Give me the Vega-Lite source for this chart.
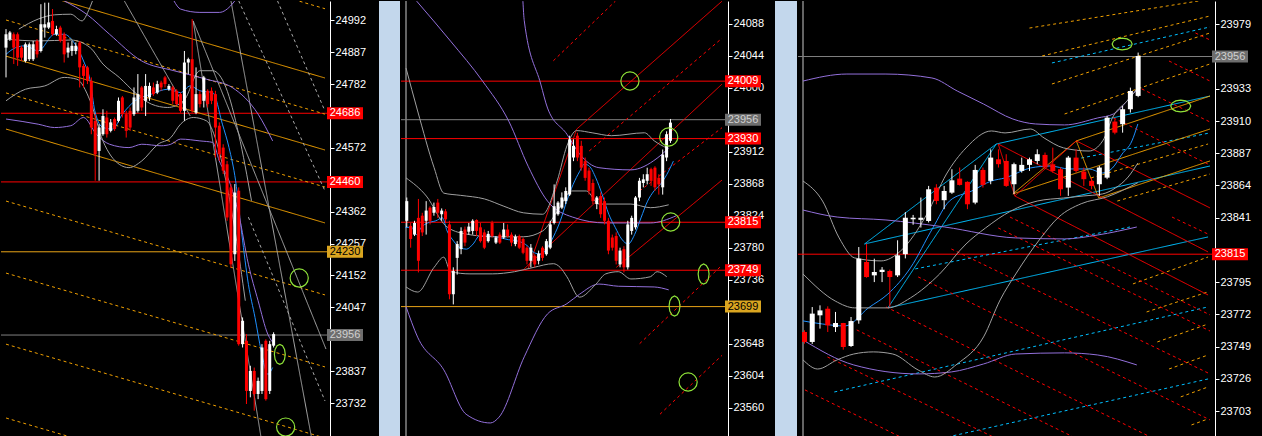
{
  "$schema": "https://vega.github.io/schema/vega-lite/v6.json",
  "background": "#000000",
  "padding": 0,
  "config": {"view": {"stroke": null}, "concat": {"spacing": 0}},
  "datasets": {
    "c1": [
      {"i":0,"o":24902,"h":24963,"l":24804,"c":24946},{"i":1,"o":24930,"h":24957,"l":24924,"c":24952},
      {"i":2,"o":24946,"h":24952,"l":24848,"c":24902},{"i":3,"o":24946,"h":24952,"l":24842,"c":24869},
      {"i":4,"o":24902,"h":24908,"l":24858,"c":24869},{"i":5,"o":24858,"h":24919,"l":24853,"c":24913},
      {"i":6,"o":24864,"h":24919,"l":24858,"c":24913},{"i":7,"o":24864,"h":24924,"l":24858,"c":24913},
      {"i":8,"o":24924,"h":24930,"l":24869,"c":24880},{"i":9,"o":24891,"h":25045,"l":24886,"c":24979},
      {"i":10,"o":24968,"h":25050,"l":24935,"c":24979},{"i":11,"o":24968,"h":25050,"l":24963,"c":24985},
      {"i":12,"o":24990,"h":25029,"l":24941,"c":24946},{"i":13,"o":24946,"h":24974,"l":24941,"c":24963},
      {"i":14,"o":24968,"h":24974,"l":24919,"c":24924},{"i":15,"o":24946,"h":24952,"l":24853,"c":24880},
      {"i":16,"o":24886,"h":24919,"l":24869,"c":24902},{"i":17,"o":24891,"h":24924,"l":24875,"c":24908},
      {"i":18,"o":24891,"h":24919,"l":24880,"c":24908},{"i":19,"o":24919,"h":24924,"l":24771,"c":24837},
      {"i":20,"o":24842,"h":24848,"l":24771,"c":24809},{"i":21,"o":24837,"h":24842,"l":24782,"c":24793},
      {"i":22,"o":24793,"h":24804,"l":24617,"c":24639},{"i":23,"o":24661,"h":24683,"l":24464,"c":24551},
      {"i":24,"o":24562,"h":24650,"l":24464,"c":24639},{"i":25,"o":24617,"h":24699,"l":24612,"c":24677},
      {"i":26,"o":24672,"h":24694,"l":24606,"c":24617},{"i":27,"o":24628,"h":24667,"l":24623,"c":24656},
      {"i":28,"o":24667,"h":24672,"l":24628,"c":24634},{"i":29,"o":24661,"h":24738,"l":24656,"c":24727},
      {"i":30,"o":24738,"h":24743,"l":24672,"c":24683},{"i":31,"o":24683,"h":24694,"l":24606,"c":24628},
      {"i":32,"o":24694,"h":24705,"l":24628,"c":24639},{"i":33,"o":24683,"h":24771,"l":24677,"c":24738},
      {"i":34,"o":24694,"h":24815,"l":24688,"c":24749},{"i":35,"o":24771,"h":24776,"l":24694,"c":24705},
      {"i":36,"o":24727,"h":24815,"l":24677,"c":24776},{"i":37,"o":24738,"h":24787,"l":24727,"c":24776},
      {"i":38,"o":24771,"h":24787,"l":24743,"c":24749},{"i":39,"o":24754,"h":24793,"l":24749,"c":24782},
      {"i":40,"o":24787,"h":24793,"l":24760,"c":24771},{"i":41,"o":24804,"h":24809,"l":24771,"c":24782},
      {"i":42,"o":24765,"h":24782,"l":24760,"c":24776},{"i":43,"o":24771,"h":24776,"l":24716,"c":24727},
      {"i":44,"o":24760,"h":24765,"l":24711,"c":24716},{"i":45,"o":24749,"h":24754,"l":24688,"c":24694},
      {"i":46,"o":24694,"h":24891,"l":24661,"c":24853},{"i":47,"o":24853,"h":24869,"l":24815,"c":24864},
      {"i":48,"o":24864,"h":24996,"l":24688,"c":24694},{"i":49,"o":24688,"h":24837,"l":24683,"c":24749},
      {"i":50,"o":24749,"h":24760,"l":24705,"c":24716},{"i":51,"o":24727,"h":24809,"l":24705,"c":24804},
      {"i":52,"o":24760,"h":24765,"l":24705,"c":24716},{"i":53,"o":24760,"h":24771,"l":24716,"c":24727},
      {"i":54,"o":24749,"h":24760,"l":24540,"c":24639},{"i":55,"o":24645,"h":24656,"l":24529,"c":24551},
      {"i":56,"o":24573,"h":24584,"l":24486,"c":24497},{"i":57,"o":24518,"h":24529,"l":24332,"c":24343},
      {"i":58,"o":24442,"h":24453,"l":24178,"c":24189},{"i":59,"o":24222,"h":24453,"l":24200,"c":24425},
      {"i":60,"o":24431,"h":24442,"l":23921,"c":23926},{"i":61,"o":23926,"h":24014,"l":23915,"c":24003},
      {"i":62,"o":23937,"h":23959,"l":23729,"c":23772},{"i":63,"o":23772,"h":23855,"l":23751,"c":23838},
      {"i":64,"o":23838,"h":23849,"l":23707,"c":23762},{"i":65,"o":23762,"h":23816,"l":23745,"c":23805},
      {"i":66,"o":23772,"h":23926,"l":23762,"c":23915},{"i":67,"o":23937,"h":23942,"l":23740,"c":23745},
      {"i":68,"o":23772,"h":23937,"l":23762,"c":23926},{"i":69,"o":23921,"h":23965,"l":23915,"c":23959}
    ],
    "c2": [
      {"i":0,"o":23817,"h":23849,"l":23808,"c":23844},{"i":1,"o":23810,"h":23814,"l":23780,"c":23792},
      {"i":2,"o":23798,"h":23817,"l":23796,"c":23814},{"i":3,"o":23821,"h":23847,"l":23746,"c":23762},
      {"i":4,"o":23824,"h":23828,"l":23796,"c":23801},{"i":5,"o":23817,"h":23844,"l":23798,"c":23831},
      {"i":6,"o":23835,"h":23837,"l":23812,"c":23817},{"i":7,"o":23828,"h":23842,"l":23824,"c":23836},
      {"i":8,"o":23842,"h":23847,"l":23821,"c":23828},{"i":9,"o":23826,"h":23834,"l":23817,"c":23831},
      {"i":10,"o":23830,"h":23833,"l":23814,"c":23819},{"i":11,"o":23812,"h":23817,"l":23709,"c":23716},
      {"i":12,"o":23716,"h":23753,"l":23702,"c":23748},{"i":13,"o":23766,"h":23789,"l":23743,"c":23785},
      {"i":14,"o":23778,"h":23808,"l":23771,"c":23803},{"i":15,"o":23805,"h":23809,"l":23782,"c":23787},
      {"i":16,"o":23802,"h":23814,"l":23798,"c":23809},{"i":17,"o":23803,"h":23819,"l":23798,"c":23817},
      {"i":18,"o":23818,"h":23819,"l":23796,"c":23803},{"i":19,"o":23808,"h":23814,"l":23787,"c":23789},
      {"i":20,"o":23801,"h":23805,"l":23778,"c":23780},{"i":21,"o":23789,"h":23803,"l":23787,"c":23799},
      {"i":22,"o":23814,"h":23817,"l":23794,"c":23796},{"i":23,"o":23787,"h":23796,"l":23785,"c":23794},
      {"i":24,"o":23798,"h":23801,"l":23785,"c":23787},{"i":25,"o":23794,"h":23814,"l":23792,"c":23805},
      {"i":26,"o":23805,"h":23812,"l":23794,"c":23796},{"i":27,"o":23798,"h":23801,"l":23782,"c":23787},
      {"i":28,"o":23785,"h":23798,"l":23782,"c":23795},{"i":29,"o":23796,"h":23798,"l":23778,"c":23780},
      {"i":30,"o":23792,"h":23794,"l":23771,"c":23773},{"i":31,"o":23780,"h":23782,"l":23757,"c":23762},
      {"i":32,"o":23762,"h":23785,"l":23753,"c":23780},{"i":33,"o":23769,"h":23771,"l":23753,"c":23757},
      {"i":34,"o":23762,"h":23776,"l":23757,"c":23772},{"i":35,"o":23780,"h":23782,"l":23762,"c":23766},
      {"i":36,"o":23771,"h":23792,"l":23769,"c":23789},{"i":37,"o":23780,"h":23817,"l":23778,"c":23812},
      {"i":38,"o":23814,"h":23867,"l":23812,"c":23837},{"i":39,"o":23826,"h":23844,"l":23824,"c":23842},
      {"i":40,"o":23835,"h":23856,"l":23833,"c":23849},{"i":41,"o":23844,"h":23863,"l":23840,"c":23858},
      {"i":42,"o":23853,"h":23934,"l":23851,"c":23929},{"i":43,"o":23904,"h":23929,"l":23899,"c":23920},
      {"i":44,"o":23934,"h":23938,"l":23899,"c":23904},{"i":45,"o":23920,"h":23927,"l":23886,"c":23890},
      {"i":46,"o":23899,"h":23904,"l":23872,"c":23876},{"i":47,"o":23886,"h":23890,"l":23853,"c":23858},
      {"i":48,"o":23869,"h":23874,"l":23840,"c":23844},{"i":49,"o":23840,"h":23851,"l":23833,"c":23849},
      {"i":50,"o":23851,"h":23856,"l":23821,"c":23826},{"i":51,"o":23844,"h":23849,"l":23812,"c":23817},
      {"i":52,"o":23817,"h":23821,"l":23771,"c":23776},{"i":53,"o":23794,"h":23798,"l":23776,"c":23780},
      {"i":54,"o":23796,"h":23801,"l":23757,"c":23762},{"i":55,"o":23757,"h":23780,"l":23753,"c":23776},
      {"i":56,"o":23778,"h":23782,"l":23746,"c":23753},{"i":57,"o":23753,"h":23817,"l":23750,"c":23812},
      {"i":58,"o":23803,"h":23824,"l":23798,"c":23821},{"i":59,"o":23808,"h":23851,"l":23805,"c":23849},
      {"i":60,"o":23849,"h":23876,"l":23844,"c":23872},{"i":61,"o":23869,"h":23881,"l":23863,"c":23874},
      {"i":62,"o":23872,"h":23890,"l":23867,"c":23881},{"i":63,"o":23888,"h":23890,"l":23865,"c":23872},
      {"i":64,"o":23890,"h":23892,"l":23858,"c":23863},{"i":65,"o":23876,"h":23881,"l":23853,"c":23867},
      {"i":66,"o":23863,"h":23915,"l":23853,"c":23908},{"i":67,"o":23904,"h":23940,"l":23899,"c":23936},
      {"i":68,"o":23927,"h":23957,"l":23924,"c":23952}
    ],
    "c3": [
      {"i":0,"o":23759.5,"h":23760.7,"l":23751.2,"c":23752.4},{"i":1,"o":23752.4,"h":23777.3,"l":23751,"c":23772.6},
      {"i":2,"o":23771.4,"h":23778.5,"l":23761.9,"c":23774.9},{"i":3,"o":23776.1,"h":23777.8,"l":23759.5,"c":23764.2},
      {"i":4,"o":23763,"h":23773.8,"l":23759.5,"c":23765.9},{"i":5,"o":23765.9,"h":23766,"l":23746.9,"c":23748.8},
      {"i":6,"o":23749.5,"h":23770.2,"l":23748.8,"c":23767.3},{"i":7,"o":23767.8,"h":23820.1,"l":23765.4,"c":23811.8},
      {"i":8,"o":23809.4,"h":23822.5,"l":23798.2,"c":23798.7},{"i":9,"o":23799.9,"h":23811.8,"l":23795.1,"c":23802.3},
      {"i":10,"o":23802.3,"h":23805.8,"l":23795.1,"c":23803.9},{"i":11,"o":23803,"h":23804,"l":23777.3,"c":23798.7},
      {"i":12,"o":23799.9,"h":23824.9,"l":23798.7,"c":23814.2},{"i":13,"o":23815,"h":23845,"l":23812,"c":23841},
      {"i":14,"o":23839.9,"h":23843,"l":23836,"c":23841},{"i":15,"o":23839.5,"h":23855.4,"l":23834,"c":23841},
      {"i":16,"o":23838.7,"h":23863.7,"l":23837.6,"c":23861.3},{"i":17,"o":23862.5,"h":23864.9,"l":23850.6,"c":23853},
      {"i":18,"o":23853.5,"h":23863.7,"l":23847.1,"c":23860.1},{"i":19,"o":23858.9,"h":23875.6,"l":23858,"c":23867.7},
      {"i":20,"o":23868.9,"h":23876.8,"l":23864,"c":23864.4},{"i":21,"o":23866.6,"h":23867,"l":23847.1,"c":23850.6},
      {"i":22,"o":23851.8,"h":23878.7,"l":23850.6,"c":23875.1},{"i":23,"o":23875.1,"h":23876.8,"l":23862.5,"c":23864.4},
      {"i":24,"o":23867.3,"h":23889.8,"l":23864.9,"c":23883.9},{"i":25,"o":23882.7,"h":23889.8,"l":23876.8,"c":23879.2},
      {"i":26,"o":23881.5,"h":23886.3,"l":23863,"c":23863.7},{"i":27,"o":23864.9,"h":23880.3,"l":23857.8,"c":23879.2},
      {"i":28,"o":23874.4,"h":23883.9,"l":23873.2,"c":23878.7},{"i":29,"o":23878.7,"h":23883.9,"l":23874.4,"c":23882.7},
      {"i":30,"o":23881.5,"h":23889.8,"l":23879.2,"c":23886.3},{"i":31,"o":23885.8,"h":23887.5,"l":23875.6,"c":23877.3},
      {"i":32,"o":23879.2,"h":23891,"l":23873.2,"c":23874.4},{"i":33,"o":23875.6,"h":23876.8,"l":23856.6,"c":23861.3},
      {"i":34,"o":23862.5,"h":23885.1,"l":23856.6,"c":23883.9},{"i":35,"o":23883.9,"h":23889.8,"l":23873.2,"c":23874.4},
      {"i":36,"o":23873.9,"h":23876.8,"l":23863.7,"c":23868.5},{"i":37,"o":23867.3,"h":23869.6,"l":23861.3,"c":23863.7},
      {"i":38,"o":23864.9,"h":23878,"l":23856.6,"c":23876.8},{"i":39,"o":23869.6,"h":23913.6,"l":23868.5,"c":23912.4},
      {"i":40,"o":23909.6,"h":23911.2,"l":23900.5,"c":23901.7},{"i":41,"o":23907.7,"h":23920.7,"l":23901.7,"c":23918.4},
      {"i":42,"o":23918.4,"h":23933.8,"l":23916,"c":23931.4},{"i":43,"o":23927.9,"h":23958.8,"l":23927,"c":23956.4}
    ],
    "l1": [
      {"id":"ma","kind":"ma","i":0,"p":24880},{"id":"ma","kind":"ma","i":2.5,"p":24902},{"id":"ma","kind":"ma","i":5,"p":24908},
      {"id":"ma","kind":"ma","i":8.3,"p":24891},{"id":"ma","kind":"ma","i":12.5,"p":24946},{"id":"ma","kind":"ma","i":15,"p":24946},
      {"id":"ma","kind":"ma","i":17.5,"p":24919},{"id":"ma","kind":"ma","i":20,"p":24858},{"id":"ma","kind":"ma","i":21.7,"p":24793},
      {"id":"ma","kind":"ma","i":22.9,"p":24694},{"id":"ma","kind":"ma","i":25,"p":24639},{"id":"ma","kind":"ma","i":27.5,"p":24634},
      {"id":"ma","kind":"ma","i":30,"p":24683},{"id":"ma","kind":"ma","i":33.3,"p":24727},{"id":"ma","kind":"ma","i":37.5,"p":24749},
      {"id":"ma","kind":"ma","i":41.7,"p":24765},{"id":"ma","kind":"ma","i":45,"p":24754},{"id":"ma","kind":"ma","i":47.5,"p":24776},
      {"id":"ma","kind":"ma","i":50,"p":24760},{"id":"ma","kind":"ma","i":53.3,"p":24754},{"id":"ma","kind":"ma","i":55.8,"p":24650},
      {"id":"ma","kind":"ma","i":57.5,"p":24573},{"id":"ma","kind":"ma","i":59.2,"p":24464},{"id":"ma","kind":"ma","i":60.8,"p":24288},
      {"id":"ma","kind":"ma","i":62.5,"p":24123},{"id":"ma","kind":"ma","i":64.2,"p":24014},{"id":"ma","kind":"ma","i":65.8,"p":23904},
      {"id":"ma","kind":"ma","i":67.5,"p":23827},{"id":"ma","kind":"ma","i":68.75,"p":23849},
      {"id":"e1","kind":"env","i":15,"p":25056},{"id":"e1","kind":"env","i":20.8,"p":25012},{"id":"e1","kind":"env","i":26.7,"p":24946},
      {"id":"e1","kind":"env","i":35,"p":24858},{"id":"e1","kind":"env","i":43.3,"p":24826},{"id":"e1","kind":"env","i":51.7,"p":24798},
      {"id":"e1","kind":"env","i":58.3,"p":24771},{"id":"e1","kind":"env","i":65,"p":24683},{"id":"e1","kind":"env","i":68.75,"p":24595},
      {"id":"e2","kind":"env","i":0,"p":24667},{"id":"e2","kind":"env","i":8.3,"p":24650},{"id":"e2","kind":"env","i":12.5,"p":24639},
      {"id":"e2","kind":"env","i":16.7,"p":24645},{"id":"e2","kind":"env","i":20,"p":24672},{"id":"e2","kind":"env","i":23.3,"p":24617},
      {"id":"e2","kind":"env","i":26.7,"p":24584},{"id":"e2","kind":"env","i":31.7,"p":24573},{"id":"e2","kind":"env","i":35,"p":24584},
      {"id":"e2","kind":"env","i":40,"p":24579},{"id":"e2","kind":"env","i":42.5,"p":24584},{"id":"e2","kind":"env","i":45,"p":24601},
      {"id":"e2","kind":"env","i":50,"p":24595},{"id":"e2","kind":"env","i":53.3,"p":24590},{"id":"e2","kind":"env","i":55,"p":24529},
      {"id":"e2","kind":"env","i":57.5,"p":24464},{"id":"e2","kind":"env","i":60,"p":24354},{"id":"e2","kind":"env","i":62.5,"p":24189},
      {"id":"e2","kind":"env","i":65,"p":24069},{"id":"e2","kind":"env","i":67.5,"p":23959},{"id":"e2","kind":"env","i":69.2,"p":23926},
      {"id":"e3","kind":"env","i":43.3,"p":25056},{"id":"e3","kind":"env","i":45,"p":25029},{"id":"e3","kind":"env","i":50,"p":25018},
      {"id":"e3","kind":"env","i":55,"p":25018},{"id":"e3","kind":"env","i":58.3,"p":25045},{"id":"e3","kind":"env","i":59,"p":25056},
      {"id":"bu","kind":"band","i":3.3,"p":24963},{"id":"bu","kind":"band","i":8.3,"p":24996},{"id":"bu","kind":"band","i":12.5,"p":25010},
      {"id":"bu","kind":"band","i":16.7,"p":25012},{"id":"bu","kind":"band","i":19.6,"p":24990},{"id":"bu","kind":"band","i":21.25,"p":25023},
      {"id":"bu","kind":"band","i":22.3,"p":25056},
      {"id":"bm","kind":"band","i":0,"p":24930},{"id":"bm","kind":"band","i":8.3,"p":24924},{"id":"bm","kind":"band","i":16.7,"p":24927},
      {"id":"bm","kind":"band","i":21.7,"p":24902},{"id":"bm","kind":"band","i":25,"p":24848},{"id":"bm","kind":"band","i":29.2,"p":24804},
      {"id":"bm","kind":"band","i":33.3,"p":24754},{"id":"bm","kind":"band","i":37.5,"p":24716},{"id":"bm","kind":"band","i":41.7,"p":24705},
      {"id":"bm","kind":"band","i":45.8,"p":24727},{"id":"bm","kind":"band","i":50,"p":24826},{"id":"bm","kind":"band","i":53.3,"p":24826},
      {"id":"bm","kind":"band","i":56.7,"p":24771},{"id":"bm","kind":"band","i":60,"p":24617},{"id":"bm","kind":"band","i":63.3,"p":24398},
      {"id":"bl","kind":"band","i":0,"p":24727},{"id":"bl","kind":"band","i":5,"p":24765},{"id":"bl","kind":"band","i":10,"p":24776},
      {"id":"bl","kind":"band","i":15,"p":24804},{"id":"bl","kind":"band","i":18.3,"p":24798},{"id":"bl","kind":"band","i":21.7,"p":24727},
      {"id":"bl","kind":"band","i":25,"p":24595},{"id":"bl","kind":"band","i":29.2,"p":24518},{"id":"bl","kind":"band","i":31.7,"p":24507},
      {"id":"bl","kind":"band","i":35,"p":24529},{"id":"bl","kind":"band","i":39.2,"p":24584},{"id":"bl","kind":"band","i":42.5,"p":24606},
      {"id":"bl","kind":"band","i":45,"p":24650},{"id":"bl","kind":"band","i":48.3,"p":24672},{"id":"bl","kind":"band","i":51.7,"p":24661},
      {"id":"bl","kind":"band","i":54.2,"p":24595},{"id":"bl","kind":"band","i":56.7,"p":24464},{"id":"bl","kind":"band","i":59.2,"p":24288},
      {"id":"bl","kind":"band","i":61.7,"p":24069}
    ],
    "l2": [
      {"id":"ma","kind":"ma","i":-0.4,"p":23808},{"id":"ma","kind":"ma","i":1.25,"p":23808},{"id":"ma","kind":"ma","i":2.5,"p":23798},
      {"id":"ma","kind":"ma","i":3.75,"p":23808},{"id":"ma","kind":"ma","i":5.4,"p":23814},{"id":"ma","kind":"ma","i":7.5,"p":23817},
      {"id":"ma","kind":"ma","i":9.2,"p":23821},{"id":"ma","kind":"ma","i":10.4,"p":23803},{"id":"ma","kind":"ma","i":12.1,"p":23789},
      {"id":"ma","kind":"ma","i":13.75,"p":23780},{"id":"ma","kind":"ma","i":15.4,"p":23778},{"id":"ma","kind":"ma","i":17.1,"p":23785},
      {"id":"ma","kind":"ma","i":18.75,"p":23796},{"id":"ma","kind":"ma","i":21.25,"p":23796},{"id":"ma","kind":"ma","i":23.75,"p":23794},
      {"id":"ma","kind":"ma","i":26.25,"p":23791},{"id":"ma","kind":"ma","i":28.75,"p":23789},{"id":"ma","kind":"ma","i":31.25,"p":23782},
      {"id":"ma","kind":"ma","i":32.9,"p":23773},{"id":"ma","kind":"ma","i":34.6,"p":23771},{"id":"ma","kind":"ma","i":36.25,"p":23780},
      {"id":"ma","kind":"ma","i":37.9,"p":23796},{"id":"ma","kind":"ma","i":39.6,"p":23817},{"id":"ma","kind":"ma","i":41.25,"p":23844},
      {"id":"ma","kind":"ma","i":42.9,"p":23867},{"id":"ma","kind":"ma","i":44.6,"p":23885},{"id":"ma","kind":"ma","i":45.8,"p":23895},
      {"id":"ma","kind":"ma","i":47.1,"p":23892},{"id":"ma","kind":"ma","i":48.75,"p":23876},{"id":"ma","kind":"ma","i":50.4,"p":23853},
      {"id":"ma","kind":"ma","i":52.1,"p":23826},{"id":"ma","kind":"ma","i":53.75,"p":23808},{"id":"ma","kind":"ma","i":55.4,"p":23792},
      {"id":"ma","kind":"ma","i":57.1,"p":23785},{"id":"ma","kind":"ma","i":58.75,"p":23798},{"id":"ma","kind":"ma","i":60.4,"p":23821},
      {"id":"ma","kind":"ma","i":62.1,"p":23844},{"id":"ma","kind":"ma","i":63.75,"p":23858},{"id":"ma","kind":"ma","i":65.4,"p":23867},
      {"id":"ma","kind":"ma","i":67.1,"p":23881},{"id":"ma","kind":"ma","i":68.75,"p":23899},
      {"id":"ea","kind":"env","i":2.55,"p":24119},{"id":"ea","kind":"env","i":11.3,"p":24064},{"id":"ea","kind":"env","i":19.55,"p":24009},
      {"id":"ea","kind":"env","i":26.3,"p":23954},{"id":"ea","kind":"env","i":31.3,"p":23892},{"id":"ea","kind":"env","i":36.3,"p":23844},
      {"id":"ea","kind":"env","i":42.8,"p":23822},{"id":"ea","kind":"env","i":51.3,"p":23814},{"id":"ea","kind":"env","i":62.8,"p":23814},
      {"id":"ea","kind":"env","i":69.55,"p":23824},
      {"id":"eb","kind":"env","i":29.95,"p":24119},{"id":"eb","kind":"env","i":30.3,"p":24092},{"id":"eb","kind":"env","i":34.55,"p":24005},
      {"id":"eb","kind":"env","i":36.3,"p":23972},{"id":"eb","kind":"env","i":41.3,"p":23936},{"id":"eb","kind":"env","i":44.55,"p":23909},
      {"id":"eb","kind":"env","i":49.55,"p":23890},{"id":"eb","kind":"env","i":57.8,"p":23887},{"id":"eb","kind":"env","i":64.55,"p":23903},
      {"id":"eb","kind":"env","i":67.55,"p":23917},
      {"id":"ec","kind":"env","i":-0.2,"p":23699},{"id":"ec","kind":"env","i":2.8,"p":23657},{"id":"ec","kind":"env","i":9.55,"p":23612},
      {"id":"ec","kind":"env","i":15.3,"p":23551},{"id":"ec","kind":"env","i":21.55,"p":23539},{"id":"ec","kind":"env","i":23.8,"p":23547},
      {"id":"ec","kind":"env","i":30.3,"p":23630},{"id":"ec","kind":"env","i":36.3,"p":23689},{"id":"ec","kind":"env","i":41.3,"p":23703},
      {"id":"ec","kind":"env","i":44.55,"p":23716},{"id":"ec","kind":"env","i":49.55,"p":23730},{"id":"ec","kind":"env","i":54.55,"p":23727},
      {"id":"ec","kind":"env","i":63.8,"p":23726},{"id":"ec","kind":"env","i":67.55,"p":23722},
      {"id":"bu","kind":"band","i":-0.2,"p":24027},{"id":"bu","kind":"band","i":2.8,"p":23968},{"id":"bu","kind":"band","i":7.05,"p":23890},
      {"id":"bu","kind":"band","i":9.55,"p":23855},{"id":"bu","kind":"band","i":13.8,"p":23852},{"id":"bu","kind":"band","i":20.05,"p":23847},
      {"id":"bu","kind":"band","i":25.05,"p":23837},{"id":"bu","kind":"band","i":30.05,"p":23828},{"id":"bu","kind":"band","i":35.05,"p":23826},
      {"id":"bu","kind":"band","i":38.8,"p":23872},{"id":"bu","kind":"band","i":41.3,"p":23920},{"id":"bu","kind":"band","i":43.8,"p":23941},
      {"id":"bu","kind":"band","i":47.8,"p":23938},{"id":"bu","kind":"band","i":52.8,"p":23934},{"id":"bu","kind":"band","i":61.3,"p":23938},
      {"id":"bu","kind":"band","i":63.8,"p":23927},{"id":"bu","kind":"band","i":67.05,"p":23917},
      {"id":"bm","kind":"band","i":-0.2,"p":23876},{"id":"bm","kind":"band","i":5.05,"p":23851},{"id":"bm","kind":"band","i":10.05,"p":23810},
      {"id":"bm","kind":"band","i":15.05,"p":23799},{"id":"bm","kind":"band","i":22.55,"p":23795},{"id":"bm","kind":"band","i":30.05,"p":23795},
      {"id":"bm","kind":"band","i":35.05,"p":23803},{"id":"bm","kind":"band","i":38.8,"p":23830},{"id":"bm","kind":"band","i":42.55,"p":23858},
      {"id":"bm","kind":"band","i":46.3,"p":23858},{"id":"bm","kind":"band","i":49.55,"p":23840},{"id":"bm","kind":"band","i":57.8,"p":23840},
      {"id":"bm","kind":"band","i":62.8,"p":23835},{"id":"bm","kind":"band","i":67.55,"p":23839},
      {"id":"bl","kind":"band","i":-0.2,"p":23726},{"id":"bl","kind":"band","i":2.8,"p":23719},{"id":"bl","kind":"band","i":7.05,"p":23753},
      {"id":"bl","kind":"band","i":9.55,"p":23767},{"id":"bl","kind":"band","i":11.3,"p":23747},{"id":"bl","kind":"band","i":16.3,"p":23744},
      {"id":"bl","kind":"band","i":22.05,"p":23744},{"id":"bl","kind":"band","i":27.8,"p":23747},{"id":"bl","kind":"band","i":32.8,"p":23753},
      {"id":"bl","kind":"band","i":37.8,"p":23758},{"id":"bl","kind":"band","i":39.55,"p":23753},{"id":"bl","kind":"band","i":41.3,"p":23740},
      {"id":"bl","kind":"band","i":44.55,"p":23712},{"id":"bl","kind":"band","i":48.8,"p":23730},{"id":"bl","kind":"band","i":51.3,"p":23744},
      {"id":"bl","kind":"band","i":54.55,"p":23747},{"id":"bl","kind":"band","i":57.8,"p":23737},{"id":"bl","kind":"band","i":62.8,"p":23740},
      {"id":"bl","kind":"band","i":64.55,"p":23747},{"id":"bl","kind":"band","i":67.05,"p":23740}
    ],
    "l3": [
      {"id":"ma","kind":"ma","i":-0.19,"p":23767.4},{"id":"ma","kind":"ma","i":2.33,"p":23765.2},{"id":"ma","kind":"ma","i":5.22,"p":23763.8},
      {"id":"ma","kind":"ma","i":8.24,"p":23776.7},{"id":"ma","kind":"ma","i":10.75,"p":23786.6},{"id":"ma","kind":"ma","i":13.65,"p":23805.2},
      {"id":"ma","kind":"ma","i":16.54,"p":23833.7},{"id":"ma","kind":"ma","i":18.68,"p":23852.9},{"id":"ma","kind":"ma","i":21.57,"p":23860.1},
      {"id":"ma","kind":"ma","i":24.09,"p":23867.2},{"id":"ma","kind":"ma","i":25.85,"p":23869.4},{"id":"ma","kind":"ma","i":29.12,"p":23876.5},
      {"id":"ma","kind":"ma","i":31.64,"p":23877.9},{"id":"ma","kind":"ma","i":34.15,"p":23875.8},{"id":"ma","kind":"ma","i":36.67,"p":23875.8},
      {"id":"ma","kind":"ma","i":38.43,"p":23872.9},{"id":"ma","kind":"ma","i":39.69,"p":23876.5},{"id":"ma","kind":"ma","i":40.94,"p":23886.5},
      {"id":"ma","kind":"ma","i":42.2,"p":23895.8},{"id":"ma","kind":"ma","i":42.96,"p":23907.9},
      {"id":"eu","kind":"env","i":-0.19,"p":23938.5},{"id":"eu","kind":"env","i":5.47,"p":23943.5},{"id":"eu","kind":"env","i":10.5,"p":23943.5},
      {"id":"eu","kind":"env","i":16.42,"p":23940.7},{"id":"eu","kind":"env","i":19.69,"p":23931.4},{"id":"eu","kind":"env","i":23.08,"p":23922.1},
      {"id":"eu","kind":"env","i":26.86,"p":23911.4},{"id":"eu","kind":"env","i":29.75,"p":23907.9},{"id":"eu","kind":"env","i":33.52,"p":23907.2},
      {"id":"eu","kind":"env","i":37.8,"p":23912.2},{"id":"eu","kind":"env","i":39.81,"p":23915},{"id":"eu","kind":"env","i":41.57,"p":23924.3},
      {"id":"eu","kind":"env","i":42.96,"p":23933.5},
      {"id":"em","kind":"env","i":-0.19,"p":23846.5},{"id":"em","kind":"env","i":4.21,"p":23841.5},{"id":"em","kind":"env","i":10.5,"p":23839.4},
      {"id":"em","kind":"env","i":18.05,"p":23834.4},{"id":"em","kind":"env","i":27.23,"p":23826.6},{"id":"em","kind":"env","i":33.52,"p":23825.9},
      {"id":"em","kind":"env","i":37.8,"p":23828.7},{"id":"em","kind":"env","i":42.83,"p":23834.4},
      {"id":"el","kind":"env","i":-0.19,"p":23753.8},{"id":"el","kind":"env","i":6.35,"p":23736},{"id":"el","kind":"env","i":14.65,"p":23729.6},
      {"id":"el","kind":"env","i":18.93,"p":23731},{"id":"el","kind":"env","i":23.08,"p":23736.7},{"id":"el","kind":"env","i":27.23,"p":23743.8},
      {"id":"el","kind":"env","i":33.52,"p":23744.6},{"id":"el","kind":"env","i":37.8,"p":23743.1},{"id":"el","kind":"env","i":42.83,"p":23736},
      {"id":"bu","kind":"band","i":-0.19,"p":23867.2},{"id":"bu","kind":"band","i":2.33,"p":23852.9},{"id":"bu","kind":"band","i":4.47,"p":23826.6},
      {"id":"bu","kind":"band","i":6.48,"p":23812.3},{"id":"bu","kind":"band","i":9.87,"p":23810.2},{"id":"bu","kind":"band","i":12.39,"p":23817.3},
      {"id":"bu","kind":"band","i":15.79,"p":23843.7},{"id":"bu","kind":"band","i":18.3,"p":23872.2},{"id":"bu","kind":"band","i":20.82,"p":23890.8},
      {"id":"bu","kind":"band","i":24.09,"p":23902.9},{"id":"bu","kind":"band","i":25.85,"p":23901.5},{"id":"bu","kind":"band","i":29.12,"p":23904.3},
      {"id":"bu","kind":"band","i":30.88,"p":23897.9},{"id":"bu","kind":"band","i":33.4,"p":23890.8},{"id":"bu","kind":"band","i":36.67,"p":23888.6},
      {"id":"bu","kind":"band","i":38.43,"p":23895.8},{"id":"bu","kind":"band","i":39.81,"p":23913.6},{"id":"bu","kind":"band","i":41.57,"p":23924.3},
      {"id":"bu","kind":"band","i":42.96,"p":23933.5},
      {"id":"bm","kind":"band","i":-0.19,"p":23800.9},{"id":"bm","kind":"band","i":3.96,"p":23781.6},{"id":"bm","kind":"band","i":6.48,"p":23776.7},
      {"id":"bm","kind":"band","i":10.75,"p":23776.7},{"id":"bm","kind":"band","i":13.65,"p":23783.8},{"id":"bm","kind":"band","i":17.42,"p":23800.9},
      {"id":"bm","kind":"band","i":20.82,"p":23822.3},{"id":"bm","kind":"band","i":23.33,"p":23833.7},{"id":"bm","kind":"band","i":26.6,"p":23845.8},
      {"id":"bm","kind":"band","i":30,"p":23852.9},{"id":"bm","kind":"band","i":33.4,"p":23855.1},{"id":"bm","kind":"band","i":35.91,"p":23856.5},
      {"id":"bm","kind":"band","i":38.43,"p":23858},{"id":"bm","kind":"band","i":40.06,"p":23862.2},{"id":"bm","kind":"band","i":41.7,"p":23870},
      {"id":"bm","kind":"band","i":42.96,"p":23880},
      {"id":"bl","kind":"band","i":-0.19,"p":23739.6},{"id":"bl","kind":"band","i":1.7,"p":23733.1},{"id":"bl","kind":"band","i":4.21,"p":23739.6},
      {"id":"bl","kind":"band","i":6.35,"p":23743.8},{"id":"bl","kind":"band","i":8.87,"p":23745.3},{"id":"bl","kind":"band","i":11.38,"p":23743.8},
      {"id":"bl","kind":"band","i":14.65,"p":23732.4},{"id":"bl","kind":"band","i":16.79,"p":23727.4},{"id":"bl","kind":"band","i":19.69,"p":23736.7},
      {"id":"bl","kind":"band","i":23.08,"p":23756},{"id":"bl","kind":"band","i":25.22,"p":23782.4},{"id":"bl","kind":"band","i":27.23,"p":23800.9},
      {"id":"bl","kind":"band","i":30.25,"p":23825.1},{"id":"bl","kind":"band","i":32.77,"p":23841.5},{"id":"bl","kind":"band","i":35.66,"p":23851},
      {"id":"bl","kind":"band","i":39.06,"p":23856},{"id":"bl","kind":"band","i":42.96,"p":23866}
    ],
    "s1": [
      {"kind":"chan","i":0,"p":25111,"i2":82.25,"p2":24802},{"kind":"chan","i":0,"p":24874,"i2":82.25,"p2":24565},
      {"kind":"chan","i":0,"p":24634,"i2":82.25,"p2":24325},
      {"kind":"chan-dash","i":0,"p":25339,"i2":82.25,"p2":25030},{"kind":"chan-dash","i":0,"p":24993,"i2":82.25,"p2":24683},
      {"kind":"chan-dash","i":0,"p":24753,"i2":82.25,"p2":24443},{"kind":"chan-dash","i":0,"p":24397,"i2":82.25,"p2":24088},
      {"kind":"chan-dash","i":0,"p":24160,"i2":82.25,"p2":23851},{"kind":"chan-dash","i":0,"p":23926,"i2":82.25,"p2":23617},
      {"kind":"chan-dash","i":0,"p":23683,"i2":82.25,"p2":23373},
      {"kind":"trend","i":48.25,"p":24990,"i2":65.75,"p2":23620},{"kind":"trend","i":58,"p":25056,"i2":78.75,"p2":23620},
      {"kind":"trend","i":48.25,"p":24990,"i2":82.5,"p2":23910},{"kind":"trend","i":30.5,"p":25056,"i2":47.5,"p2":24677},
      {"kind":"trend-dash","i":60,"p":25056,"i2":82.25,"p2":24430},{"kind":"trend-dash","i":70,"p":25056,"i2":82.25,"p2":24693},
      {"kind":"trend-dash","i":62.5,"p":24344,"i2":82.25,"p2":23739}
    ],
    "s2": [
      {"kind":"fork","i":43.8,"p":23943,"i2":81.3,"p2":24119},{"kind":"fork","i":30.3,"p":23751,"i2":81.3,"p2":24005},
      {"kind":"fork","i":54.05,"p":23753,"i2":81.3,"p2":23873},{"kind":"fork","i":31.3,"p":23751,"i2":43.8,"p2":23943},
      {"kind":"fork-dash","i":37.8,"p":24037,"i2":53.8,"p2":24119},{"kind":"fork-dash","i":47.05,"p":23913,"i2":81.3,"p2":24068},
      {"kind":"fork-dash","i":60.05,"p":23858,"i2":81.3,"p2":23945},{"kind":"fork-dash","i":60.05,"p":23648,"i2":81.3,"p2":23756},
      {"kind":"fork-dash","i":65.3,"p":23551,"i2":81.3,"p2":23632}
    ],
    "s3": [
      {"kind":"fan","i":7.74,"p":23822.3,"i2":52.26,"p2":23877.9},{"kind":"fan","i":10.75,"p":23776.7,"i2":52.01,"p2":23827.3},
      {"kind":"fan","i":24.72,"p":23893.6,"i2":52.26,"p2":23927.8},{"kind":"fan","i":10.75,"p":23776.7,"i2":24.72,"p2":23893.6},
      {"kind":"fan","i":7.74,"p":23822.3,"i2":24.72,"p2":23893.6},
      {"kind":"fan-dash","i":31.89,"p":23951.4,"i2":52.26,"p2":23977.1},{"kind":"fan-dash","i":35.66,"p":23883.6,"i2":52.26,"p2":23901.5},
      {"kind":"fan-dash","i":14.28,"p":23804.5,"i2":41.95,"p2":23834.4},{"kind":"fan-dash","i":3.84,"p":23716.7,"i2":52.01,"p2":23777.4},
      {"kind":"fan-dash","i":18.43,"p":23684.6,"i2":52.01,"p2":23726},
      {"kind":"chan","i":26.86,"p":23858,"i2":35.03,"p2":23895.8},{"kind":"chan","i":35.03,"p":23895.8,"i2":37.92,"p2":23855.1},
      {"kind":"chan","i":35.03,"p":23895.8,"i2":52.26,"p2":23927.8},{"kind":"chan","i":26.86,"p":23858,"i2":52.26,"p2":23904.3},
      {"kind":"chan","i":37.92,"p":23855.1,"i2":52.26,"p2":23881.5},
      {"kind":"chan-dash","i":28.99,"p":23976.3,"i2":50.75,"p2":23995.6},{"kind":"chan-dash","i":30.63,"p":23956.4,"i2":52.26,"p2":23984.9},
      {"kind":"chan-dash","i":31.89,"p":23936.4,"i2":52.26,"p2":23972.8},{"kind":"chan-dash","i":33.52,"p":23915,"i2":52.26,"p2":23950.7},
      {"kind":"chan-dash","i":36.92,"p":23869.4,"i2":52.01,"p2":23893.6},{"kind":"chan-dash","i":40.31,"p":23852.9,"i2":52.26,"p2":23872.2},
      {"kind":"chan-dash","i":42.33,"p":23793.8,"i2":52.01,"p2":23813},{"kind":"chan-dash","i":44.09,"p":23773.8,"i2":52.01,"p2":23788.1},
      {"kind":"chan-dash","i":45.47,"p":23752.4,"i2":52.01,"p2":23765.2},{"kind":"chan-dash","i":46.98,"p":23733.1,"i2":52.01,"p2":23743.1},
      {"kind":"chan-dash","i":48.49,"p":23713.2,"i2":52.01,"p2":23720.3},{"kind":"chan-dash","i":49.87,"p":23693.2,"i2":52.01,"p2":23697.5},
      {"kind":"fork","i":24.97,"p":23893.6,"i2":27.11,"p2":23856.5},{"kind":"fork","i":27.11,"p":23856.5,"i2":35.03,"p2":23895.8},
      {"kind":"fork","i":24.97,"p":23893.6,"i2":52.01,"p2":23816.6},{"kind":"fork","i":27.11,"p":23856.5,"i2":52.01,"p2":23785.9},
      {"kind":"fork","i":35.03,"p":23895.8,"i2":52.26,"p2":23848},
      {"kind":"fork-dash","i":50.38,"p":23972.8,"i2":52.26,"p2":23967.8},{"kind":"fork-dash","i":46.98,"p":23952.8,"i2":52.26,"p2":23938.5},
      {"kind":"fork-dash","i":43.46,"p":23932.9,"i2":52.26,"p2":23909.3},{"kind":"fork-dash","i":39.81,"p":23912.2,"i2":52.26,"p2":23878.6},
      {"kind":"fork-dash","i":47.36,"p":23841.5,"i2":52.26,"p2":23828.7},{"kind":"fork-dash","i":26.48,"p":23841.5,"i2":52.26,"p2":23771.7},
      {"kind":"fork-dash","i":18.93,"p":23818.7,"i2":52.26,"p2":23729.6},{"kind":"fork-dash","i":14.65,"p":23798.8,"i2":52.26,"p2":23696.8},
      {"kind":"fork-dash","i":6.73,"p":23761,"i2":34.65,"p2":23684.6},{"kind":"fork-dash","i":2.96,"p":23741.7,"i2":24.34,"p2":23684.6},
      {"kind":"fork-dash","i":0.06,"p":23718.2,"i2":12.39,"p2":23684.6},{"kind":"fork-dash","i":10.5,"p":23777.4,"i2":44.59,"p2":23684.6},
      {"kind":"fork-dash","i":24.97,"p":23833.7,"i2":52.26,"p2":23760.2}
    ],
    "h1": [{"kind":"level","p":24686},{"kind":"level","p":24460},{"kind":"pivot","p":24230},{"kind":"last","p":23956}],
    "h2": [{"kind":"level","p":24009},{"kind":"last","p":23956},{"kind":"level","p":23930},{"kind":"level","p":23815},{"kind":"level","p":23749},{"kind":"pivot","p":23699}],
    "h3": [{"kind":"level","p":23815},{"kind":"last","p":23956}],
    "g1": [{"form":"round","i":75.6,"p":24143.6},{"form":"tall","i":70.6,"p":23892.4},{"form":"round","i":72.1,"p":23653}],
    "g2": [{"form":"round","i":57.55,"p":24009.2},{"form":"round","i":67.55,"p":23932.2},{"form":"round","i":68.05,"p":23815.3},
           {"form":"tall","i":76.55,"p":23743.8},{"form":"tall","i":69.05,"p":23699.8},{"form":"round","i":72.55,"p":23595.3}],
    "g3": [{"form":"wide","i":40.94,"p":23964.9},{"form":"wide","i":48.49,"p":23920.7}]
  },
  "hconcat": [
    {
      "width": 329, "height": 436,
      "resolve": {"scale": {"color": "independent", "strokeDash": "independent", "shape": "independent"}},
      "encoding": {
        "y": {"field": "p", "type": "quantitative", "scale": {"domain": [23620.4, 25055.5], "nice": false, "zero": false},
          "axis": {"orient": "right", "values": [24992, 24887, 24782, 24572, 24362, 24257, 24152, 24047, 23837, 23732], "format": "d", "title": null, "grid": false, "labelColor": "#ffffff", "labelFont": "Liberation Sans", "labelFontSize": 11, "labelPadding": 1, "labelOverlap": false, "tickColor": "#ffffff", "tickSize": 4, "domainColor": "#ffffff", "minExtent": 49, "maxExtent": 49}}
      },
      "layer": [
        {"data": {"name": "h1"}, "mark": {"type": "rule", "strokeWidth": 1},
         "encoding": {"color": {"condition": [{"test": "datum.kind === 'level'", "value": "#ff0000"}, {"test": "datum.kind === 'pivot'", "value": "#e8a317"}], "value": "#808080"}}},
        {"data": {"name": "s1"}, "mark": {"type": "rule", "clip": true, "strokeWidth": 1},
         "encoding": {"x": {"field": "i", "type": "quantitative", "scale": {"domain": [0, 82.25], "nice": false, "zero": false}, "axis": null}, "x2": {"field": "i2"}, "y2": {"field": "p2"},
           "color": {"field": "kind", "type": "nominal", "legend": null, "scale": {"domain": ["trend", "trend-dash", "chan", "chan-dash", "fork", "fork-dash", "fan", "fan-dash"], "range": ["#a9a9a9", "#a9a9a9", "#f0a000", "#f0a000", "#ff0000", "#ff0000", "#00bfff", "#00bfff"]}},
           "strokeDash": {"field": "kind", "type": "nominal", "legend": null, "scale": {"domain": ["trend", "trend-dash", "chan", "chan-dash", "fork", "fork-dash", "fan", "fan-dash"], "range": [[1, 0], [3, 3], [1, 0], [3, 3], [1, 0], [3, 3], [1, 0], [3, 3]]}}}},
        {"data": {"name": "l1"}, "mark": {"type": "line", "clip": true, "strokeWidth": 1, "interpolate": "monotone"},
         "encoding": {"x": {"field": "i", "type": "quantitative", "scale": {"domain": [0, 82.25], "nice": false, "zero": false}, "axis": null},
           "detail": {"field": "id"},
           "color": {"field": "kind", "type": "nominal", "legend": null, "scale": {"domain": ["ma", "env", "band"], "range": ["#1e90ff", "#9370db", "#a0a0a0"]}}}},
        {"data": {"name": "c1"}, "mark": {"type": "rule", "clip": true, "strokeWidth": 1},
         "encoding": {"x": {"field": "i", "type": "quantitative", "scale": {"domain": [0, 82.25], "nice": false, "zero": false}, "axis": null},
           "y": {"field": "l", "type": "quantitative", "scale": {"domain": [23620.4, 25055.5], "nice": false, "zero": false},
             "axis": {"orient": "right", "values": [24992, 24887, 24782, 24572, 24362, 24257, 24152, 24047, 23837, 23732], "format": "d", "title": null, "grid": false, "labelColor": "#ffffff", "labelFont": "Liberation Sans", "labelFontSize": 11, "labelPadding": 1, "labelOverlap": false, "tickColor": "#ffffff", "tickSize": 4, "domainColor": "#ffffff", "minExtent": 49, "maxExtent": 49}},
           "y2": {"field": "h"},
           "color": {"condition": {"test": "datum.c >= datum.o", "value": "#ffffff"}, "value": "#ff0000"}}},
        {"data": {"name": "c1"}, "mark": {"type": "bar", "clip": true, "width": 3, "opacity": 1},
         "encoding": {"x": {"field": "i", "type": "quantitative", "scale": {"domain": [0, 82.25], "nice": false, "zero": false}, "axis": null},
           "y": {"field": "o", "type": "quantitative", "scale": {"domain": [23620.4, 25055.5], "nice": false, "zero": false},
             "axis": {"orient": "right", "values": [24992, 24887, 24782, 24572, 24362, 24257, 24152, 24047, 23837, 23732], "format": "d", "title": null, "grid": false, "labelColor": "#ffffff", "labelFont": "Liberation Sans", "labelFontSize": 11, "labelPadding": 1, "labelOverlap": false, "tickColor": "#ffffff", "tickSize": 4, "domainColor": "#ffffff", "minExtent": 49, "maxExtent": 49}},
           "y2": {"field": "c"},
           "color": {"condition": {"test": "datum.c >= datum.o", "value": "#ffffff"}, "value": "#ff0000"}}},
        {"data": {"name": "g1"}, "mark": {"type": "point", "filled": false, "size": 330, "strokeWidth": 1.2, "color": "#8fe339", "opacity": 1, "clip": true},
         "encoding": {"x": {"field": "i", "type": "quantitative", "scale": {"domain": [0, 82.25], "nice": false, "zero": false}, "axis": null},
           "shape": {"field": "form", "type": "nominal", "legend": null, "scale": {"domain": ["round", "tall", "wide"], "range": ["circle", "M0.6,0L0.52,0.55L0.3,0.953L0,1.1L-0.3,0.953L-0.52,0.55L-0.6,0L-0.52,-0.55L-0.3,-0.953L0,-1.1L0.3,-0.953L0.52,-0.55Z", "M1.1,0L0.953,0.325L0.55,0.563L0,0.65L-0.55,0.563L-0.953,0.325L-1.1,0L-0.953,-0.325L-0.55,-0.563L0,-0.65L0.55,-0.563L0.953,-0.325Z"]}}}},
        {"data": {"name": "h1"}, "mark": {"type": "point", "shape": "M-1,-0.3333L1,-0.3333L1,0.3333L-1,0.3333Z", "size": 1296, "filled": true, "strokeWidth": 0, "opacity": 1, "xOffset": 20},
         "encoding": {"x": {"datum": 82.25, "type": "quantitative", "scale": {"domain": [0, 82.25], "nice": false, "zero": false}, "axis": null},
           "color": {"condition": [{"test": "datum.kind === 'level'", "value": "#ff0000"}, {"test": "datum.kind === 'pivot'", "value": "#daa520"}], "value": "#6e6e6e"}}},
        {"data": {"name": "h1"}, "mark": {"type": "text", "font": "Liberation Sans", "fontSize": 11, "align": "center", "baseline": "middle", "xOffset": 20},
         "encoding": {"x": {"datum": 82.25, "type": "quantitative", "scale": {"domain": [0, 82.25], "nice": false, "zero": false}, "axis": null},
           "text": {"field": "p", "type": "quantitative", "format": "d"},
           "color": {"condition": [{"test": "datum.kind === 'pivot'", "value": "#000000"}, {"test": "datum.kind === 'last'", "value": "#d0d0d0"}], "value": "#ffffff"}}}
      ]
    },
    {
      "width": 21, "height": 436,
      "view": {"fill": "#c3d7ec", "stroke": null},
      "data": {"values": [{"a": 1}]},
      "mark": {"type": "text", "text": ""}
    },
    {
      "width": 327, "height": 436,
      "resolve": {"scale": {"color": "independent", "strokeDash": "independent", "shape": "independent"}},
      "encoding": {
        "y": {"field": "p", "type": "quantitative", "scale": {"domain": [23519.7, 24119.2], "nice": false, "zero": false},
          "axis": {"orient": "right", "values": [24088, 24044, 24000, 23912, 23868, 23824, 23780, 23736, 23648, 23604, 23560], "format": "d", "title": null, "grid": false, "labelColor": "#ffffff", "labelFont": "Liberation Sans", "labelFontSize": 11, "labelPadding": 1, "labelOverlap": false, "tickColor": "#ffffff", "tickSize": 4, "domainColor": "#ffffff", "minExtent": 47, "maxExtent": 47}}
      },
      "layer": [
        {"data": {"values": [{"a": 1}]}, "mark": {"type": "rule", "color": "#c8c8c8", "strokeWidth": 1},
         "encoding": {"x": {"datum": -0.2, "type": "quantitative", "scale": {"domain": [-0.2, 81.55], "nice": false, "zero": false}, "axis": null}, "y": null}},
        {"data": {"name": "h2"}, "mark": {"type": "rule", "strokeWidth": 1},
         "encoding": {"color": {"condition": [{"test": "datum.kind === 'level'", "value": "#ff0000"}, {"test": "datum.kind === 'pivot'", "value": "#e8a317"}], "value": "#808080"}}},
        {"data": {"name": "s2"}, "mark": {"type": "rule", "clip": true, "strokeWidth": 1},
         "encoding": {"x": {"field": "i", "type": "quantitative", "scale": {"domain": [-0.2, 81.55], "nice": false, "zero": false}, "axis": null}, "x2": {"field": "i2"}, "y2": {"field": "p2"},
           "color": {"field": "kind", "type": "nominal", "legend": null, "scale": {"domain": ["trend", "trend-dash", "chan", "chan-dash", "fork", "fork-dash", "fan", "fan-dash"], "range": ["#a9a9a9", "#a9a9a9", "#f0a000", "#f0a000", "#ff0000", "#ff0000", "#00bfff", "#00bfff"]}},
           "strokeDash": {"field": "kind", "type": "nominal", "legend": null, "scale": {"domain": ["trend", "trend-dash", "chan", "chan-dash", "fork", "fork-dash", "fan", "fan-dash"], "range": [[1, 0], [3, 3], [1, 0], [3, 3], [1, 0], [3, 3], [1, 0], [3, 3]]}}}},
        {"data": {"name": "l2"}, "mark": {"type": "line", "clip": true, "strokeWidth": 1, "interpolate": "monotone"},
         "encoding": {"x": {"field": "i", "type": "quantitative", "scale": {"domain": [-0.2, 81.55], "nice": false, "zero": false}, "axis": null},
           "detail": {"field": "id"},
           "color": {"field": "kind", "type": "nominal", "legend": null, "scale": {"domain": ["ma", "env", "band"], "range": ["#1e90ff", "#9370db", "#a0a0a0"]}}}},
        {"data": {"name": "c2"}, "mark": {"type": "rule", "clip": true, "strokeWidth": 1},
         "encoding": {"x": {"field": "i", "type": "quantitative", "scale": {"domain": [-0.2, 81.55], "nice": false, "zero": false}, "axis": null},
           "y": {"field": "l", "type": "quantitative", "scale": {"domain": [23519.7, 24119.2], "nice": false, "zero": false},
             "axis": {"orient": "right", "values": [24088, 24044, 24000, 23912, 23868, 23824, 23780, 23736, 23648, 23604, 23560], "format": "d", "title": null, "grid": false, "labelColor": "#ffffff", "labelFont": "Liberation Sans", "labelFontSize": 11, "labelPadding": 1, "labelOverlap": false, "tickColor": "#ffffff", "tickSize": 4, "domainColor": "#ffffff", "minExtent": 47, "maxExtent": 47}},
           "y2": {"field": "h"},
           "color": {"condition": {"test": "datum.c >= datum.o", "value": "#ffffff"}, "value": "#ff0000"}}},
        {"data": {"name": "c2"}, "mark": {"type": "bar", "clip": true, "width": 3, "opacity": 1},
         "encoding": {"x": {"field": "i", "type": "quantitative", "scale": {"domain": [-0.2, 81.55], "nice": false, "zero": false}, "axis": null},
           "y": {"field": "o", "type": "quantitative", "scale": {"domain": [23519.7, 24119.2], "nice": false, "zero": false},
             "axis": {"orient": "right", "values": [24088, 24044, 24000, 23912, 23868, 23824, 23780, 23736, 23648, 23604, 23560], "format": "d", "title": null, "grid": false, "labelColor": "#ffffff", "labelFont": "Liberation Sans", "labelFontSize": 11, "labelPadding": 1, "labelOverlap": false, "tickColor": "#ffffff", "tickSize": 4, "domainColor": "#ffffff", "minExtent": 47, "maxExtent": 47}},
           "y2": {"field": "c"},
           "color": {"condition": {"test": "datum.c >= datum.o", "value": "#ffffff"}, "value": "#ff0000"}}},
        {"data": {"name": "g2"}, "mark": {"type": "point", "filled": false, "size": 330, "strokeWidth": 1.2, "color": "#8fe339", "opacity": 1, "clip": true},
         "encoding": {"x": {"field": "i", "type": "quantitative", "scale": {"domain": [-0.2, 81.55], "nice": false, "zero": false}, "axis": null},
           "shape": {"field": "form", "type": "nominal", "legend": null, "scale": {"domain": ["round", "tall", "wide"], "range": ["circle", "M0.6,0L0.52,0.55L0.3,0.953L0,1.1L-0.3,0.953L-0.52,0.55L-0.6,0L-0.52,-0.55L-0.3,-0.953L0,-1.1L0.3,-0.953L0.52,-0.55Z", "M1.1,0L0.953,0.325L0.55,0.563L0,0.65L-0.55,0.563L-0.953,0.325L-1.1,0L-0.953,-0.325L-0.55,-0.563L0,-0.65L0.55,-0.563L0.953,-0.325Z"]}}}},
        {"data": {"name": "h2"}, "mark": {"type": "point", "shape": "M-1,-0.3333L1,-0.3333L1,0.3333L-1,0.3333Z", "size": 1296, "filled": true, "strokeWidth": 0, "opacity": 1, "xOffset": 20},
         "encoding": {"x": {"datum": 81.55, "type": "quantitative", "scale": {"domain": [-0.2, 81.55], "nice": false, "zero": false}, "axis": null},
           "color": {"condition": [{"test": "datum.kind === 'level'", "value": "#ff0000"}, {"test": "datum.kind === 'pivot'", "value": "#daa520"}], "value": "#6e6e6e"}}},
        {"data": {"name": "h2"}, "mark": {"type": "text", "font": "Liberation Sans", "fontSize": 11, "align": "center", "baseline": "middle", "xOffset": 20},
         "encoding": {"x": {"datum": 81.55, "type": "quantitative", "scale": {"domain": [-0.2, 81.55], "nice": false, "zero": false}, "axis": null},
           "text": {"field": "p", "type": "quantitative", "format": "d"},
           "color": {"condition": [{"test": "datum.kind === 'pivot'", "value": "#000000"}, {"test": "datum.kind === 'last'", "value": "#d0d0d0"}], "value": "#ffffff"}}}
      ]
    },
    {
      "width": 22, "height": 436,
      "view": {"fill": "#c3d7ec", "stroke": null},
      "data": {"values": [{"a": 1}]},
      "mark": {"type": "text", "text": ""}
    },
    {
      "width": 417, "height": 436,
      "resolve": {"scale": {"color": "independent", "strokeDash": "independent", "shape": "independent"}},
      "encoding": {
        "y": {"field": "p", "type": "quantitative", "scale": {"domain": [23684.6, 23995.6], "nice": false, "zero": false},
          "axis": {"orient": "right", "values": [23979, 23933, 23910, 23887, 23864, 23841, 23795, 23772, 23749, 23726, 23703], "format": "d", "title": null, "grid": false, "labelColor": "#ffffff", "labelFont": "Liberation Sans", "labelFontSize": 11, "labelPadding": 1, "labelOverlap": false, "tickColor": "#ffffff", "tickSize": 4, "domainColor": "#ffffff", "minExtent": 50, "maxExtent": 50}}
      },
      "layer": [
        {"data": {"values": [{"a": 1}]}, "mark": {"type": "rule", "color": "#c8c8c8", "strokeWidth": 1},
         "encoding": {"x": {"datum": -0.19, "type": "quantitative", "scale": {"domain": [-0.19, 52.26], "nice": false, "zero": false}, "axis": null}, "y": null}},
        {"data": {"name": "h3"}, "mark": {"type": "rule", "strokeWidth": 1},
         "encoding": {"color": {"condition": [{"test": "datum.kind === 'level'", "value": "#ff0000"}, {"test": "datum.kind === 'pivot'", "value": "#e8a317"}], "value": "#808080"}}},
        {"data": {"name": "s3"}, "mark": {"type": "rule", "clip": true, "strokeWidth": 1},
         "encoding": {"x": {"field": "i", "type": "quantitative", "scale": {"domain": [-0.19, 52.26], "nice": false, "zero": false}, "axis": null}, "x2": {"field": "i2"}, "y2": {"field": "p2"},
           "color": {"field": "kind", "type": "nominal", "legend": null, "scale": {"domain": ["trend", "trend-dash", "chan", "chan-dash", "fork", "fork-dash", "fan", "fan-dash"], "range": ["#a9a9a9", "#a9a9a9", "#f0a000", "#f0a000", "#ff0000", "#ff0000", "#00bfff", "#00bfff"]}},
           "strokeDash": {"field": "kind", "type": "nominal", "legend": null, "scale": {"domain": ["trend", "trend-dash", "chan", "chan-dash", "fork", "fork-dash", "fan", "fan-dash"], "range": [[1, 0], [3, 3], [1, 0], [3, 3], [1, 0], [3, 3], [1, 0], [3, 3]]}}}},
        {"data": {"name": "l3"}, "mark": {"type": "line", "clip": true, "strokeWidth": 1, "interpolate": "monotone"},
         "encoding": {"x": {"field": "i", "type": "quantitative", "scale": {"domain": [-0.19, 52.26], "nice": false, "zero": false}, "axis": null},
           "detail": {"field": "id"},
           "color": {"field": "kind", "type": "nominal", "legend": null, "scale": {"domain": ["ma", "env", "band"], "range": ["#1e90ff", "#9370db", "#a0a0a0"]}}}},
        {"data": {"name": "c3"}, "mark": {"type": "rule", "clip": true, "strokeWidth": 1},
         "encoding": {"x": {"field": "i", "type": "quantitative", "scale": {"domain": [-0.19, 52.26], "nice": false, "zero": false}, "axis": null},
           "y": {"field": "l", "type": "quantitative", "scale": {"domain": [23684.6, 23995.6], "nice": false, "zero": false},
             "axis": {"orient": "right", "values": [23979, 23933, 23910, 23887, 23864, 23841, 23795, 23772, 23749, 23726, 23703], "format": "d", "title": null, "grid": false, "labelColor": "#ffffff", "labelFont": "Liberation Sans", "labelFontSize": 11, "labelPadding": 1, "labelOverlap": false, "tickColor": "#ffffff", "tickSize": 4, "domainColor": "#ffffff", "minExtent": 50, "maxExtent": 50}},
           "y2": {"field": "h"},
           "color": {"condition": {"test": "datum.c >= datum.o", "value": "#ffffff"}, "value": "#ff0000"}}},
        {"data": {"name": "c3"}, "mark": {"type": "bar", "clip": true, "width": 5, "opacity": 1},
         "encoding": {"x": {"field": "i", "type": "quantitative", "scale": {"domain": [-0.19, 52.26], "nice": false, "zero": false}, "axis": null},
           "y": {"field": "o", "type": "quantitative", "scale": {"domain": [23684.6, 23995.6], "nice": false, "zero": false},
             "axis": {"orient": "right", "values": [23979, 23933, 23910, 23887, 23864, 23841, 23795, 23772, 23749, 23726, 23703], "format": "d", "title": null, "grid": false, "labelColor": "#ffffff", "labelFont": "Liberation Sans", "labelFontSize": 11, "labelPadding": 1, "labelOverlap": false, "tickColor": "#ffffff", "tickSize": 4, "domainColor": "#ffffff", "minExtent": 50, "maxExtent": 50}},
           "y2": {"field": "c"},
           "color": {"condition": {"test": "datum.c >= datum.o", "value": "#ffffff"}, "value": "#ff0000"}}},
        {"data": {"name": "g3"}, "mark": {"type": "point", "filled": false, "size": 330, "strokeWidth": 1.2, "color": "#8fe339", "opacity": 1, "clip": true},
         "encoding": {"x": {"field": "i", "type": "quantitative", "scale": {"domain": [-0.19, 52.26], "nice": false, "zero": false}, "axis": null},
           "shape": {"field": "form", "type": "nominal", "legend": null, "scale": {"domain": ["round", "tall", "wide"], "range": ["circle", "M0.6,0L0.52,0.55L0.3,0.953L0,1.1L-0.3,0.953L-0.52,0.55L-0.6,0L-0.52,-0.55L-0.3,-0.953L0,-1.1L0.3,-0.953L0.52,-0.55Z", "M1.1,0L0.953,0.325L0.55,0.563L0,0.65L-0.55,0.563L-0.953,0.325L-1.1,0L-0.953,-0.325L-0.55,-0.563L0,-0.65L0.55,-0.563L0.953,-0.325Z"]}}}},
        {"data": {"name": "h3"}, "mark": {"type": "point", "shape": "M-1,-0.3333L1,-0.3333L1,0.3333L-1,0.3333Z", "size": 1296, "filled": true, "strokeWidth": 0, "opacity": 1, "xOffset": 20},
         "encoding": {"x": {"datum": 52.26, "type": "quantitative", "scale": {"domain": [-0.19, 52.26], "nice": false, "zero": false}, "axis": null},
           "color": {"condition": [{"test": "datum.kind === 'level'", "value": "#ff0000"}, {"test": "datum.kind === 'pivot'", "value": "#daa520"}], "value": "#6e6e6e"}}},
        {"data": {"name": "h3"}, "mark": {"type": "text", "font": "Liberation Sans", "fontSize": 11, "align": "center", "baseline": "middle", "xOffset": 20},
         "encoding": {"x": {"datum": 52.26, "type": "quantitative", "scale": {"domain": [-0.19, 52.26], "nice": false, "zero": false}, "axis": null},
           "text": {"field": "p", "type": "quantitative", "format": "d"},
           "color": {"condition": [{"test": "datum.kind === 'pivot'", "value": "#000000"}, {"test": "datum.kind === 'last'", "value": "#d0d0d0"}], "value": "#ffffff"}}}
      ]
    }
  ]
}
